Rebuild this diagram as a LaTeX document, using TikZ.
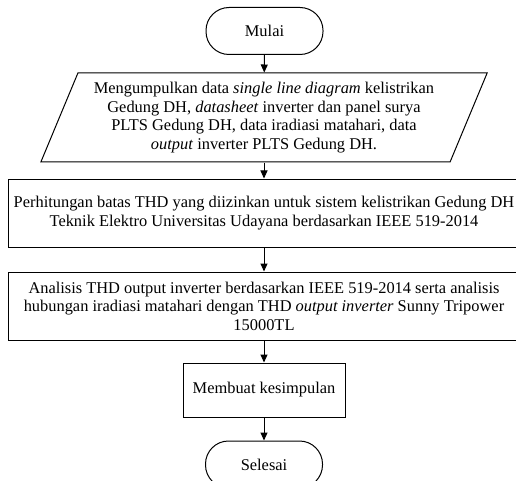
\documentclass[tikz,border=0pt]{standalone}
\usepackage{fontspec}
\setmainfont{Liberation Serif}
\usetikzlibrary{arrows.meta,shapes.geometric}
\begin{document}
\begin{tikzpicture}[x=1pt,y=-1pt,
  every node/.style={font=\fontsize{16.4}{18.4}\selectfont, inner sep=0pt, line width=1pt},
  terminal/.style={draw, rounded corners=23pt, minimum width=117pt, minimum height=47pt},
  procbox/.style={draw, rectangle, align=center},
  iobox/.style={draw, trapezium, trapezium left angle=64.2, trapezium right angle=115.8,
     trapezium stretches=true, minimum width=448pt, minimum height=89pt, align=center},
  flow/.style={line width=1pt, -{Triangle[length=8pt,width=7pt]}}
]
\clip (0,0) rectangle (516,481);
\fill[white] (0,0) rectangle (516,481);
\node[terminal] (start) at (264.5,31) {Mulai};
\node[iobox] (data) at (264,117.5) {Mengumpulkan data \textit{single line diagram} kelistrikan\\
Gedung DH, \textit{datasheet} inverter dan panel surya\\
PLTS Gedung DH, data iradiasi matahari, data\\
\textit{output} inverter PLTS Gedung DH.};
\node[procbox, minimum width=512pt, minimum height=68pt] (calc) at (264,213) {Perhitungan batas THD yang diizinkan untuk sistem kelistrikan Gedung DH\\
Teknik Elektro Universitas Udayana berdasarkan IEEE 519-2014};
\node[procbox, minimum width=512pt, minimum height=68pt] (anal) at (264,306) {Analisis THD output inverter berdasarkan IEEE 519-2014 serta analisis\\
hubungan iradiasi matahari dengan THD \textit{output inverter} Sunny Tripower\\
15000TL};
\node[procbox, minimum width=162pt, minimum height=54pt] (concl) at (264,390) {Membuat kesimpulan};
\node[terminal] (stop) at (264,464.5) {Selesai};
\draw[flow] (start) -- (data);
\draw[flow] (data) -- (calc);
\draw[flow] (calc) -- (anal);
\draw[flow] (anal) -- (concl);
\draw[flow] (concl) -- (stop);
\end{tikzpicture}
\end{document}
